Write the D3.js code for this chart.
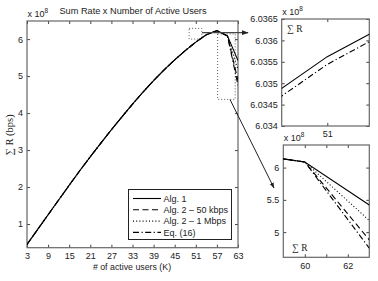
<!DOCTYPE html>
<html>
<head>
<meta charset="utf-8">
<script src="https://cdn.jsdelivr.net/npm/d3@7/dist/d3.min.js"></script>
<style>
  body { margin: 0; background: #fff; }
  svg { display: block; font-family: "Liberation Sans", Arial, sans-serif; }
  .tick text { fill: #222; }
  .tick line { stroke: #444; }
</style>
</head>
<body>
<svg id="chart" width="378" height="281"></svg>
<script>
// number of active users (K) and sum rates, x 10^8 bps
var users    = [3, 6, 9, 12, 15, 18, 21, 24, 27, 30, 33, 36, 39, 42, 45, 48, 51, 54, 57, 60, 63];
var alg1     = [0.45, 0.85, 1.25, 1.65, 2.05, 2.44, 2.82, 3.19, 3.55, 3.90, 4.24, 4.57, 4.88, 5.17, 5.44, 5.69, 5.92, 6.12, 6.23, 6.087, 5.42];
var alg2_50k = [0.45, 0.85, 1.25, 1.65, 2.05, 2.44, 2.82, 3.19, 3.55, 3.90, 4.24, 4.57, 4.88, 5.17, 5.44, 5.69, 5.92, 6.12, 6.23, 6.087, 4.88];
var alg2_1M  = [0.45, 0.85, 1.25, 1.65, 2.05, 2.44, 2.82, 3.19, 3.55, 3.90, 4.24, 4.57, 4.88, 5.17, 5.44, 5.69, 5.92, 6.12, 6.23, 6.087, 5.18];
var eq16     = [0.45, 0.85, 1.25, 1.65, 2.05, 2.44, 2.82, 3.19, 3.55, 3.90, 4.24, 4.57, 4.88, 5.17, 5.44, 5.69, 5.92, 6.12, 6.23, 6.087, 4.75];

// zoom around K = 51
var zoomUsers = [50, 51, 52];
var zoomAlg1  = [6.03417, 6.03562, 6.03673];
var zoomEq16  = [6.03399, 6.03544, 6.03657];

var xTicks = [3, 9, 15, 21, 27, 33, 39, 45, 51, 57, 63];
var yTicks = [1, 2, 3, 4, 5, 6];
var zoomAYTicks = [6.034, 6.0345, 6.035, 6.0355, 6.036, 6.0365];
var zoomAXTicks = [51];
var zoomBYTicks = [5, 5.5, 6];
var zoomBXTicks = [60, 61, 62];

var series = [
  { name: 'Alg. 1',                values: alg1,     dash: null },
  { name: 'Alg. 2 \u2013 50 kbps', values: alg2_50k, dash: '6,3.5' },
  { name: 'Alg. 2 \u2013 1 Mbps',  values: alg2_1M,  dash: '1,2.2' },
  { name: 'Eq. (16)',              values: eq16,     dash: '6,2.5,1.2,2.5' }
];

var svg = d3.select('#chart');

var panel = function(opts) {
  var x = d3.scaleLinear().domain(opts.xd).range([opts.x0, opts.x1]),
      y = d3.scaleLinear().domain(opts.yd).range([opts.y1, opts.y0]),
      g = svg.append('g'),
      fs = opts.fs || 9;

  g.append('clipPath').attr('id', opts.id)
    .append('rect')
      .attr('x', opts.x0).attr('y', opts.y0)
      .attr('width', opts.x1 - opts.x0).attr('height', opts.y1 - opts.y0);

  var fmt = opts.xfmt || function(d) { return d; };

  g.append('g')
    .attr('transform', 'translate(0,' + opts.y1 + ')')
    .call(d3.axisBottom(x).tickValues(opts.xt).tickFormat(fmt).tickSize(-3).tickPadding(5))
    .call(function(a) { a.select('.domain').remove(); a.selectAll('text').style('font-size', fs + 'px'); });

  g.append('g')
    .attr('transform', 'translate(0,' + opts.y0 + ')')
    .call(d3.axisTop(x).tickValues(opts.xt).tickFormat('').tickSize(-3))
    .call(function(a) { a.select('.domain').remove(); });

  g.append('g')
    .attr('transform', 'translate(' + opts.x0 + ',0)')
    .call(d3.axisLeft(y).tickValues(opts.yt).tickFormat(opts.yfmt || function(d) { return d; }).tickSize(-3).tickPadding(4))
    .call(function(a) { a.select('.domain').remove(); a.selectAll('text').style('font-size', fs + 'px'); });

  g.append('g')
    .attr('transform', 'translate(' + opts.x1 + ',0)')
    .call(d3.axisRight(y).tickValues(opts.yt).tickFormat('').tickSize(-3))
    .call(function(a) { a.select('.domain').remove(); });

  g.append('rect')
    .attr('x', opts.x0).attr('y', opts.y0)
    .attr('width', opts.x1 - opts.x0).attr('height', opts.y1 - opts.y0)
    .attr('fill', 'none').attr('stroke', '#666').attr('stroke-width', 1.2);

  // x 10^8 multiplier
  var m = g.append('text')
    .attr('x', opts.x0 + 0.5).attr('y', opts.y0 - 4)
    .style('font-size', fs + 'px').attr('fill', '#222');
  m.append('tspan').text('x 10');
  m.append('tspan').attr('dy', -4).style('font-size', (fs - 2.5) + 'px').text('8');

  return { x: x, y: y, g: g, id: opts.id };
};

var drawLine = function(p, xs, ys, dash) {
  var line = d3.line()
    .x(function(d, i) { return p.x(xs[i]); })
    .y(function(d) { return p.y(d); });
  p.g.append('path')
    .datum(ys)
    .attr('clip-path', 'url(#' + p.id + ')')
    .attr('d', line)
    .attr('fill', 'none')
    .attr('stroke', '#000')
    .attr('stroke-width', 1.1)
    .attr('stroke-dasharray', dash);
};

// main panel
var main = panel({ id: 'clipMain', x0: 27, x1: 238, y0: 21, y1: 247.7,
                   xd: [3, 63], yd: [0.36, 6.49], xt: xTicks, yt: yTicks });

series.slice().reverse().forEach(function(s) { drawLine(main, users, s.values, s.dash); });

svg.append('text')
  .attr('x', 133).attr('y', 14).attr('text-anchor', 'middle')
  .style('font-size', '9.2px').attr('fill', '#222')
  .text('Sum Rate x Number of Active Users');

svg.append('text')
  .attr('x', 132).attr('y', 270).attr('text-anchor', 'middle')
  .style('font-size', '8.8px').attr('fill', '#222')
  .text('# of active users (K)');

svg.append('text')
  .attr('transform', 'translate(13,135) rotate(-90)')
  .attr('text-anchor', 'middle')
  .style('font-family', '"Liberation Serif", "DejaVu Serif", serif')
  .style('font-size', '10.5px').attr('fill', '#222')
  .text('\u2211 R (bps)');

// zoom rectangles on the main panel
var zoomBox = function(k0, k1, v0, v1) {
  svg.append('rect')
    .attr('x', main.x(k0)).attr('y', main.y(v1))
    .attr('width', main.x(k1) - main.x(k0)).attr('height', main.y(v0) - main.y(v1))
    .attr('fill', 'none').attr('stroke', '#333').attr('stroke-width', 0.8)
    .attr('stroke-dasharray', '1,2');
};
zoomBox(49.1, 52.7, 6.0, 6.29);
zoomBox(57.2, 62.2, 4.37, 6.14);

// legend
var legend = svg.append('g');
legend.append('rect')
  .attr('x', 128.5).attr('y', 189.5).attr('width', 103).attr('height', 50)
  .attr('fill', '#fff').attr('stroke', '#222').attr('stroke-width', 1);
series.forEach(function(s, i) {
  var yy = 198.5 + i * 11.3;
  legend.append('line')
    .attr('x1', 133).attr('x2', 161).attr('y1', yy).attr('y2', yy)
    .attr('stroke', '#000').attr('stroke-width', 1.1)
    .attr('stroke-dasharray', s.dash);
  legend.append('text')
    .attr('x', 163.5).attr('y', yy + 3.2)
    .style('font-size', '9px').attr('fill', '#222')
    .text(s.name);
});

// inset around K = 51
var insetA = panel({ id: 'clipA', x0: 281.7, x1: 369.3, y0: 19, y1: 126,
                     xd: [50.49, 51.47], yd: [6.034, 6.0365], xt: zoomAXTicks, yt: zoomAYTicks,
                     yfmt: function(d) { return d3.format('.4~f')(d); } });
drawLine(insetA, zoomUsers, zoomEq16, '6,2.5,1.2,2.5');
drawLine(insetA, zoomUsers, zoomAlg1, null);
svg.append('text')
  .attr('x', 287).attr('y', 32)
  .style('font-family', '"Liberation Serif", "DejaVu Serif", serif')
  .style('font-size', '9.5px').attr('fill', '#222')
  .text('\u2211 R');

// inset around K = 59..63
var insetB = panel({ id: 'clipB', x0: 283.3, x1: 369.3, y0: 145, y1: 257.3,
                     xd: [59, 63], yd: [4.61, 6.35], xt: zoomBXTicks, yt: zoomBYTicks,
                     xfmt: function(d) { return d === 61 ? '' : d; } });
series.slice().reverse().forEach(function(s) { drawLine(insetB, users, s.values, s.dash); });
svg.append('text')
  .attr('x', 292).attr('y', 251)
  .style('font-family', '"Liberation Serif", "DejaVu Serif", serif')
  .style('font-size', '9.5px').attr('fill', '#222')
  .text('\u2211 R');

// arrows
svg.append('defs').append('marker')
  .attr('id', 'head').attr('viewBox', '0 0 10 10')
  .attr('refX', 9).attr('refY', 5)
  .attr('markerWidth', 6).attr('markerHeight', 6)
  .attr('orient', 'auto')
  .append('path').attr('d', 'M0,1.5L10,5L0,8.5Z').attr('fill', '#222');

svg.append('line')
  .attr('x1', 202).attr('y1', 32.7).attr('x2', 248).attr('y2', 32.7)
  .attr('stroke', '#444').attr('stroke-width', 1.2)
  .attr('marker-end', 'url(#head)');

svg.append('line')
  .attr('x1', 230).attr('y1', 99.5).attr('x2', 274).attr('y2', 188)
  .attr('stroke', '#222').attr('stroke-width', 1)
  .attr('marker-end', 'url(#head)');
</script>
</body>
</html>
